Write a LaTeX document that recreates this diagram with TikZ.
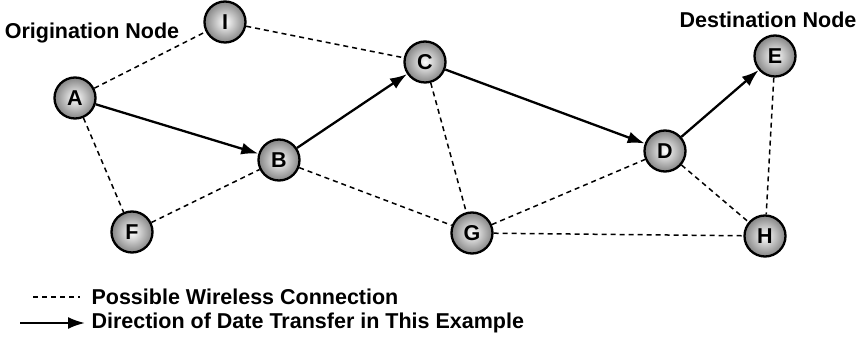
\documentclass[tikz,border=0pt]{standalone}
\usepackage{fontspec}
\setmainfont{Liberation Sans}
\usetikzlibrary{arrows.meta,positioning}

\begin{document}
\begin{tikzpicture}[x=1pt,y=-1pt,
  font=\fontsize{21.5}{25}\selectfont\bfseries,
  netnode/.style={draw,circle,line width=2.3pt,minimum size=41pt,inner sep=0pt,
    inner color=white,outer color=black!48},
  wireless/.style={line width=1.5pt,dash pattern=on 5pt off 4pt},
  transfer/.style={-{Latex[length=17pt,width=12pt]},line width=2.3pt}]
\useasboundingbox (0,0) rectangle (868,344);
\node[netnode] (nI) at (225,22) {I};
\node[netnode] (nA) at (75,98) {A};
\node[netnode] (nB) at (279,160) {B};
\node[netnode] (nC) at (425,62) {C};
\node[netnode] (nD) at (665,151) {D};
\node[netnode] (nE) at (775,56) {E};
\node[netnode] (nF) at (132,232) {F};
\node[netnode] (nG) at (472,233) {G};
\node[netnode] (nH) at (765,236) {H};
\node (orig) at (92,33) {Origination Node};
\node (dest) at (768,20) {Destination Node};
\draw[wireless] (nA) -- (nI);
\draw[wireless] (nI) -- (nC);
\draw[wireless] (nA) -- (nF);
\draw[wireless] (nF) -- (nB);
\draw[wireless] (nB) -- (nG);
\draw[wireless] (nC) -- (nG);
\draw[wireless] (nG) -- (nD);
\draw[wireless] (nG) -- (nH);
\draw[wireless] (nD) -- (nH);
\draw[wireless] (nE) -- (nH);
\draw[transfer] (nA) -- (nB);
\draw[transfer] (nB) -- (nC);
\draw[transfer] (nC) -- (nD);
\draw[transfer] (nD) -- (nE);
% legend
\coordinate (k1a) at (33,297);
\coordinate (k1b) at (80,297);
\coordinate (k2a) at (20,323);
\coordinate (k2b) at (85,323);
\draw[wireless] (k1a) -- (k1b);
\draw[transfer] (k2a) -- (k2b);
\node[anchor=west] (key1) at (88,297) {Possible Wireless Connection};
\node[anchor=west] (key2) at (88,323) {Direction of Date Transfer in This Example};
\end{tikzpicture}
\end{document}
